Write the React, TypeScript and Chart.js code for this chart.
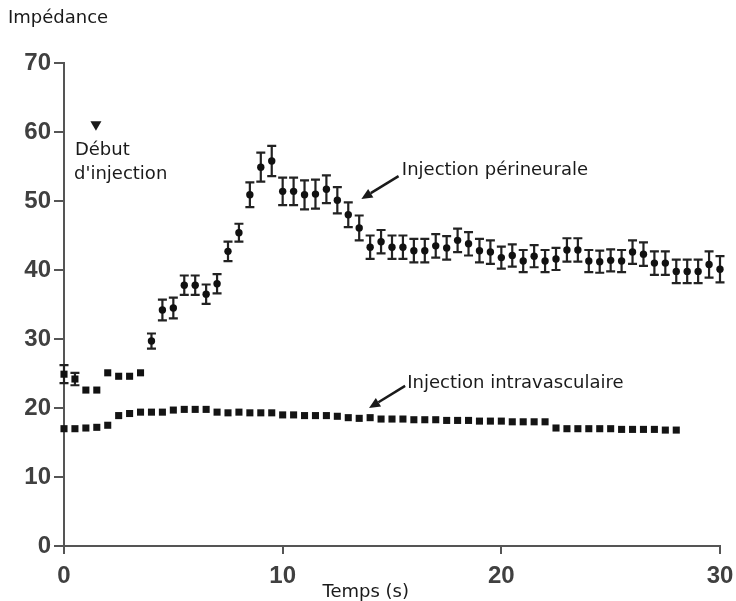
import React, { useEffect, useRef } from "react";
import { Chart, registerables } from "chart.js";

Chart.register(...registerables);

// ---- Data ----
const perineuralTime = [
  0, 0.5, 1, 1.5, 2, 2.5, 3, 3.5, 4, 4.5, 5, 5.5, 6, 6.5, 7, 7.5, 8, 8.5, 9, 9.5,
  10, 10.5, 11, 11.5, 12, 12.5, 13, 13.5, 14, 14.5, 15, 15.5, 16, 16.5, 17, 17.5, 18, 18.5, 19, 19.5,
  20, 20.5, 21, 21.5, 22, 22.5, 23, 23.5, 24, 24.5, 25, 25.5, 26, 26.5, 27, 27.5, 28, 28.5, 29, 29.5, 30,
];
const perineuralValues = [
  24.9, 24.2, 22.6, 22.6, 25.1, 24.6, 24.6, 25.1, 29.7, 34.2, 34.5, 37.8, 37.8, 36.5, 38.0, 42.7, 45.4, 50.9, 54.9, 55.8,
  51.4, 51.4, 50.9, 51.0, 51.7, 50.1, 48.0, 46.1, 43.3, 44.1, 43.3, 43.3, 42.8, 42.8, 43.5, 43.2, 44.3, 43.8, 42.8, 42.6,
  41.8, 42.1, 41.3, 42.0, 41.3, 41.6, 42.9, 42.9, 41.3, 41.2, 41.4, 41.3, 42.6, 42.3, 41.0, 41.0, 39.8, 39.8, 39.8, 40.8, 40.1,
];
const perineuralErrors = [
  1.3, 0.9, 0, 0, 0, 0, 0, 0, 1.1, 1.5, 1.5, 1.4, 1.4, 1.4, 1.4, 1.4, 1.3, 1.8, 2.1, 2.2,
  2.0, 2.0, 2.1, 2.1, 2.0, 1.9, 1.8, 1.8, 1.7, 1.7, 1.7, 1.7, 1.7, 1.7, 1.7, 1.7, 1.7, 1.7, 1.7, 1.7,
  1.6, 1.6, 1.6, 1.6, 1.6, 1.6, 1.7, 1.7, 1.6, 1.6, 1.6, 1.6, 1.7, 1.7, 1.7, 1.7, 1.7, 1.7, 1.7, 1.9, 1.9,
];

const intravascularTime = [
  0, 0.5, 1, 1.5, 2, 2.5, 3, 3.5, 4, 4.5, 5, 5.5, 6, 6.5, 7, 7.5, 8, 8.5, 9, 9.5,
  10, 10.5, 11, 11.5, 12, 12.5, 13, 13.5, 14, 14.5, 15, 15.5, 16, 16.5, 17, 17.5, 18, 18.5, 19, 19.5,
  20, 20.5, 21, 21.5, 22, 22.5, 23, 23.5, 24, 24.5, 25, 25.5, 26, 26.5, 27, 27.5, 28,
];
const intravascularValues = [
  17.0, 17.0, 17.1, 17.2, 17.5, 18.9, 19.2, 19.4, 19.4, 19.4, 19.7, 19.8, 19.8, 19.8, 19.4, 19.3, 19.4, 19.3, 19.3, 19.3,
  19.0, 19.0, 18.9, 18.9, 18.9, 18.8, 18.6, 18.5, 18.6, 18.4, 18.4, 18.4, 18.3, 18.3, 18.3, 18.2, 18.2, 18.2, 18.1, 18.1,
  18.1, 18.0, 18.0, 18.0, 18.0, 17.1, 17.0, 17.0, 17.0, 17.0, 17.0, 16.9, 16.9, 16.9, 16.9, 16.8, 16.8,
];

const xTickValues = [0, 10, 20, 30];
const yTickValues = [0, 10, 20, 30, 40, 50, 60, 70];

const yAxisTitle = "Impédance";
const xAxisTitle = "Temps (s)";

// Annotation texts (positions in data units)
const noteTexts = ["Début", "d'injection", "Injection périneurale", "Injection intravasculaire"];
const noteX = [0.5, 0.46, 15.45, 15.7];
const noteY = [57.4, 53.8, 54.5, 23.6];
// Arrows: tail -> head (data units)
const arrowTailX = [15.3, 15.6];
const arrowTailY = [53.6, 23.2];
const arrowHeadX = [13.6, 13.95];
const arrowHeadY = [50.3, 20.0];
// Injection start marker (triangle)
const markerX = 1.46;
const markerY = 60.9;

const perineuralStyles = perineuralTime.map((t) => (t <= 3.5 ? "rect" : "circle"));
const perineuralRadius = perineuralTime.map((t) => (t <= 3.5 ? 5 : 3.7));

const textFont = '18px "DejaVu Sans"';

const overlayPlugin = {
  id: "overlay",
  beforeDatasetsDraw(chart: any) {
    const ctx = chart.ctx;
    const xs = chart.scales.x;
    const ys = chart.scales.y;
    ctx.save();
    ctx.strokeStyle = "#222222";
    ctx.lineWidth = 2.2;
    perineuralTime.forEach((t, i) => {
      const e = perineuralErrors[i];
      if (!e) return;
      const px = xs.getPixelForValue(t);
      const y1 = ys.getPixelForValue(perineuralValues[i] + e);
      const y2 = ys.getPixelForValue(perineuralValues[i] - e);
      ctx.beginPath();
      ctx.moveTo(px, y1);
      ctx.lineTo(px, y2);
      ctx.moveTo(px - 4.5, y1);
      ctx.lineTo(px + 4.5, y1);
      ctx.moveTo(px - 4.5, y2);
      ctx.lineTo(px + 4.5, y2);
      ctx.stroke();
    });
    ctx.restore();
  },
  afterDraw(chart: any) {
    const ctx = chart.ctx;
    const xs = chart.scales.x;
    const ys = chart.scales.y;
    ctx.save();
    ctx.fillStyle = "#1a1a1a";
    ctx.font = textFont;
    ctx.textBaseline = "middle";
    ctx.textAlign = "left";
    noteTexts.forEach((txt, i) => {
      ctx.fillText(txt, xs.getPixelForValue(noteX[i]), ys.getPixelForValue(noteY[i]));
    });
    // axis titles
    ctx.fillText(yAxisTitle, 8, 18);
    ctx.textAlign = "center";
    ctx.fillText(xAxisTitle, xs.getPixelForValue(13.8), 592);

    // arrows
    ctx.strokeStyle = "#1a1a1a";
    ctx.lineWidth = 2.5;
    arrowTailX.forEach((tx, i) => {
      const x1 = xs.getPixelForValue(tx);
      const y1 = ys.getPixelForValue(arrowTailY[i]);
      const x2 = xs.getPixelForValue(arrowHeadX[i]);
      const y2 = ys.getPixelForValue(arrowHeadY[i]);
      const ang = Math.atan2(y2 - y1, x2 - x1);
      const hl = 11;
      const hw = 5;
      const bx = x2 - hl * Math.cos(ang);
      const by = y2 - hl * Math.sin(ang);
      ctx.beginPath();
      ctx.moveTo(x1, y1);
      ctx.lineTo(bx, by);
      ctx.stroke();
      ctx.beginPath();
      ctx.moveTo(x2, y2);
      ctx.lineTo(bx - hw * Math.sin(ang), by + hw * Math.cos(ang));
      ctx.lineTo(bx + hw * Math.sin(ang), by - hw * Math.cos(ang));
      ctx.closePath();
      ctx.fill();
    });

    // triangle marker
    const mx = xs.getPixelForValue(markerX);
    const my = ys.getPixelForValue(markerY);
    ctx.beginPath();
    ctx.moveTo(mx - 5.5, my - 4.5);
    ctx.lineTo(mx + 5.5, my - 4.5);
    ctx.lineTo(mx, my + 5);
    ctx.closePath();
    ctx.fill();
    ctx.restore();
  },
};

export default function App() {
  const canvasRef = useRef<HTMLCanvasElement | null>(null);

  useEffect(() => {
    const prevMargin = document.body.style.margin;
    document.body.style.margin = "0";
    const canvas = canvasRef.current;
    if (!canvas) return;
    const axisColor = "#555555";
    const tickFont = { family: '"Liberation Sans", Arial, sans-serif', size: 24, weight: "bold" as const };
    const chart = new Chart(canvas, {
      type: "scatter",
      data: {
        datasets: [
          {
            label: "Injection périneurale",
            data: perineuralTime.map((t, i) => ({ x: t, y: perineuralValues[i] })),
            pointStyle: perineuralStyles as any,
            pointRadius: perineuralRadius,
            backgroundColor: "#111111",
            borderColor: "#111111",
            borderWidth: 0,
            showLine: false,
            clip: false as any,
          },
          {
            label: "Injection intravasculaire",
            data: intravascularTime.map((t, i) => ({ x: t, y: intravascularValues[i] })),
            pointStyle: "rect",
            pointRadius: 5,
            backgroundColor: "#141414",
            borderColor: "#141414",
            borderWidth: 0,
            showLine: false,
            clip: false as any,
          },
        ],
      },
      options: {
        responsive: false,
        animation: false,
        devicePixelRatio: 1,
        layout: { padding: { top: 63, right: 16, left: 0, bottom: 0 } },
        plugins: {
          legend: { display: false },
          tooltip: { enabled: false },
          title: { display: false },
        },
        scales: {
          x: {
            type: "linear",
            min: 0,
            max: 30,
            afterBuildTicks: (scale: any) => {
              scale.ticks = xTickValues.map((v) => ({ value: v }));
            },
            afterFit: (scale: any) => {
              scale.height = 55;
              scale.paddingLeft = 0;
              scale.paddingRight = 0;
            },
            ticks: {
              color: "#404040",
              font: tickFont,
              padding: 8,
              maxRotation: 0,
              autoSkip: false,
            },
            grid: {
              display: true,
              drawOnChartArea: false,
              drawTicks: true,
              tickLength: 8,
              color: axisColor,
              lineWidth: 2,
            },
            border: { display: true, color: axisColor, width: 2 },
          },
          y: {
            type: "linear",
            min: 0,
            max: 70,
            afterBuildTicks: (scale: any) => {
              scale.ticks = yTickValues.map((v) => ({ value: v }));
            },
            afterFit: (scale: any) => {
              scale.width = 64;
              scale.paddingTop = 0;
              scale.paddingBottom = 0;
            },
            ticks: {
              color: "#404040",
              font: tickFont,
              padding: 3,
              autoSkip: false,
            },
            grid: {
              display: true,
              drawOnChartArea: false,
              drawTicks: true,
              tickLength: 10,
              color: axisColor,
              lineWidth: 2,
            },
            border: { display: true, color: axisColor, width: 2 },
          },
        },
      },
      plugins: [overlayPlugin],
    });
    return () => {
      chart.destroy();
      document.body.style.margin = prevMargin;
    };
  }, []);

  return (
    <div style={{ position: "fixed", left: 0, top: 0, width: 736, height: 601, background: "#ffffff" }}>
      <canvas ref={canvasRef} width={736} height={601} style={{ width: 736, height: 601, display: "block" }} />
    </div>
  );
}
